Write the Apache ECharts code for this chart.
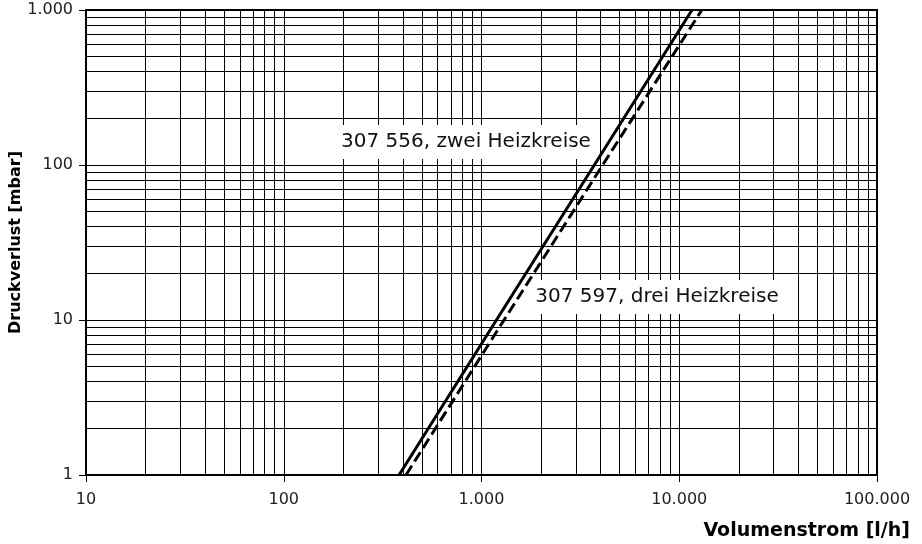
<!DOCTYPE html>
<html>
<head>
<meta charset="utf-8">
<script src="https://cdn.jsdelivr.net/npm/echarts@6/dist/echarts.min.js"></script>
<style>html,body{margin:0;padding:0;background:#fff}#c{width:922px;height:544px}</style>
</head>
<body>
<div id="c"></div>
<script>
// Data (volume flow l/h, pressure loss mbar)
const zweiFlow = [383, 1190, 3720, 11600];
const zweiLoss = [1, 10, 100, 1000];
const dreiFlow = [415, 1300, 4100, 13000];
const dreiLoss = [1, 10, 100, 1000];
const zweiLabel = '307 556, zwei Heizkreise';
const dreiLabel = '307 597, drei Heizkreise';
const xMin = 10, xMax = 100000;
const yMin = 1, yMax = 1000;
const xTitle = 'Volumenstrom [l/h]';
const yTitle = 'Druckverlust [mbar]';
const minorSteps = [2, 3, 4, 5, 6, 7, 8, 9];
const xDecades = [10, 100, 1000, 10000];
const yDecades = [1, 10, 100];

const minorX = [];
xDecades.forEach(d => minorSteps.forEach(s => minorX.push(d * s)));
const minorY = [];
yDecades.forEach(d => minorSteps.forEach(s => minorY.push(d * s)));

function fmt(v) {
  return String(Math.round(v)).replace(/\B(?=(\d{3})+(?!\d))/g, '.');
}
const font = '"DejaVu Sans", "Noto Sans", sans-serif';

const chart = echarts.init(document.getElementById('c'), null, {renderer: 'canvas'});
chart.setOption({
  animation: false,
  backgroundColor: '#fff',
  grid: {left: 86, right: 45, top: 10, bottom: 69, outerBoundsMode: 'none', containLabel: false,
         show: true, borderColor: '#000', borderWidth: 2, backgroundColor: 'transparent'},
  xAxis: {
    type: 'log', logBase: 10, min: xMin, max: xMax,
    axisLine: {show: true, lineStyle: {color: '#000', width: 2}},
    axisTick: {show: true, length: 7, inside: false, lineStyle: {color: '#000', width: 1}},
    axisLabel: {margin: 17, color: '#222', fontSize: 16, fontFamily: font, formatter: fmt},
    splitLine: {show: true, lineStyle: {color: '#000', width: 1}}
  },
  yAxis: {
    type: 'log', logBase: 10, min: yMin, max: yMax,
    name: yTitle, nameLocation: 'middle', nameGap: 62, nameRotate: 90, nameMoveOverlap: false,
    nameTextStyle: {fontSize: 16, fontWeight: 'bold', color: '#000', fontFamily: font},
    axisLine: {show: true, lineStyle: {color: '#000', width: 2}},
    axisTick: {show: true, length: 7, inside: false, lineStyle: {color: '#000', width: 1}},
    axisLabel: {margin: 13, color: '#222', fontSize: 16, fontFamily: font, formatter: fmt},
    splitLine: {show: true, lineStyle: {color: '#000', width: 1}}
  },
  series: [
    {
      type: 'line', data: [], silent: true, z: 2,
      markLine: {
        silent: true, symbol: 'none', animation: false,
        label: {show: false},
        lineStyle: {color: '#000', width: 1, type: 'solid'},
        data: minorX.map(v => ({xAxis: v})).concat(minorY.map(v => ({yAxis: v})))
      }
    },
    {
      name: zweiLabel, type: 'line', showSymbol: false, symbol: 'none', z: 200,
      data: zweiFlow.map((x, i) => [x, zweiLoss[i]]),
      lineStyle: {color: '#000', width: 3, type: 'solid'}
    },
    {
      name: dreiLabel, type: 'line', showSymbol: false, symbol: 'none', z: 200,
      data: dreiFlow.map((x, i) => [x, dreiLoss[i]]),
      lineStyle: {color: '#000', width: 3, type: [11, 5]}
    }
  ],
  graphic: [
    {type: 'text', x: 466, y: 142, z: 100, style: {text: zweiLabel, fontSize: 20, fontFamily: font, fill: '#111', align: 'center', verticalAlign: 'middle', backgroundColor: '#fff', padding: [7, 4, 7, 4]}},
    {type: 'text', x: 657, y: 297, z: 100, style: {text: dreiLabel, fontSize: 20, fontFamily: font, fill: '#111', align: 'center', verticalAlign: 'middle', backgroundColor: '#fff', padding: [7, 4, 7, 4]}},
    {type: 'text', x: 910, y: 531, z: 100, style: {text: xTitle, fontSize: 19, fontWeight: 'bold', fontFamily: font, fill: '#000', align: 'right', verticalAlign: 'middle'}}
  ]
});
</script>
</body>
</html>
